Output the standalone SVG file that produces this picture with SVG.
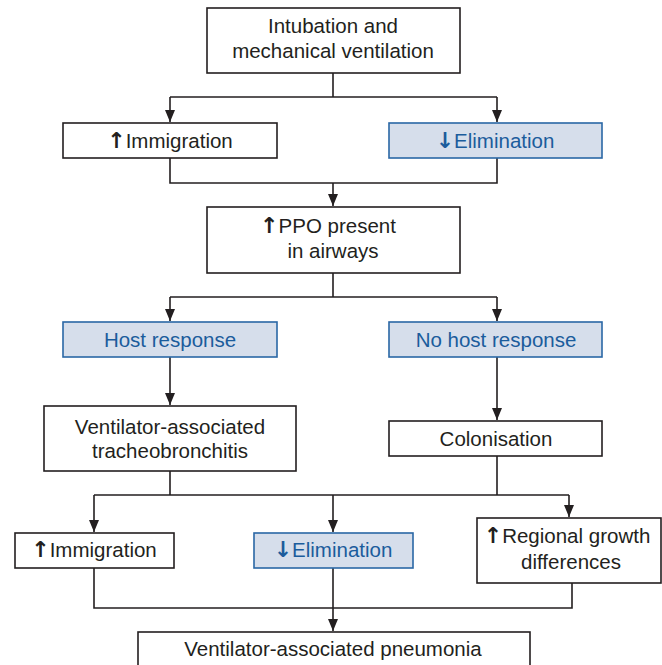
<svg xmlns="http://www.w3.org/2000/svg" width="662" height="665" viewBox="0 0 662 665">
<defs>
<marker id="ah" viewBox="0 0 12 10" refX="12" refY="5" markerWidth="12" markerHeight="10" markerUnits="userSpaceOnUse" orient="auto">
<path d="M0,0 L12,5 L0,10 Z" fill="#231f20"/>
</marker>
<style>
.b{fill:#fff;stroke:#231f20;stroke-width:1.6}
.bl{fill:#d6deeb;stroke:#2a67a5;stroke-width:1.6}
.t{font-family:"Liberation Sans",Arial,sans-serif;font-size:20.5px;fill:#231f20;text-anchor:middle}
.tb{fill:#1b5c9c}
.ar{font-family:"DejaVu Sans",sans-serif;font-weight:bold;font-size:22px}
.c{fill:none;stroke:#231f20;stroke-width:1.6}
</style>
</defs>
<rect width="662" height="665" fill="#fff"/>
<g id="connectors">
<path class="c" d="M333,73 V97 M170,97 H497"/>
<path class="c" d="M170,97 V122" marker-end="url(#ah)"/>
<path class="c" d="M497,97 V122" marker-end="url(#ah)"/>
<path class="c" d="M170,158 V183 H497 V158"/>
<path class="c" d="M333,183 V206" marker-end="url(#ah)"/>
<path class="c" d="M333,273 V297 M170,297 H497"/>
<path class="c" d="M170,297 V321" marker-end="url(#ah)"/>
<path class="c" d="M497,297 V321" marker-end="url(#ah)"/>
<path class="c" d="M170,357 V405" marker-end="url(#ah)"/>
<path class="c" d="M497,357 V420" marker-end="url(#ah)"/>
<path class="c" d="M170,471 V495 M497,456 V495 M94,495 H569"/>
<path class="c" d="M94,495 V532" marker-end="url(#ah)"/>
<path class="c" d="M333,495 V532" marker-end="url(#ah)"/>
<path class="c" d="M569,495 V517" marker-end="url(#ah)"/>
<path class="c" d="M94,568 V608 H572 V583"/>
<path class="c" d="M333,568 V631" marker-end="url(#ah)"/>
</g>
<g id="n1"><rect class="b" x="207" y="8" width="253" height="65"/>
<text class="t" x="333" y="33">Intubation and</text>
<text class="t" x="333" y="58">mechanical ventilation</text></g>
<g id="n2"><rect class="b" x="63" y="123" width="214" height="35"/>
<text class="t" x="170" y="148"><tspan class="ar">↑</tspan>Immigration</text></g>
<g id="n3"><rect class="bl" x="389" y="123" width="213" height="35"/>
<text class="t tb" x="495" y="148"><tspan class="ar">↓</tspan>Elimination</text></g>
<g id="n4"><rect class="b" x="207" y="207" width="253" height="66"/>
<text class="t" x="328" y="233"><tspan class="ar">↑</tspan>PPO present</text>
<text class="t" x="333" y="258">in airways</text></g>
<g id="n5"><rect class="bl" x="63" y="322" width="214" height="35"/>
<text class="t tb" x="170" y="347">Host response</text></g>
<g id="n6"><rect class="bl" x="389" y="322" width="213" height="35"/>
<text class="t tb" x="496" y="347">No host response</text></g>
<g id="n7"><rect class="b" x="44" y="406" width="252" height="65"/>
<text class="t" x="170" y="434">Ventilator-associated</text>
<text class="t" x="170" y="458">tracheobronchitis</text></g>
<g id="n8"><rect class="b" x="389" y="421" width="213" height="35"/>
<text class="t" x="496" y="446">Colonisation</text></g>
<g id="n9"><rect class="b" x="15" y="533" width="159" height="35"/>
<text class="t" x="94" y="557"><tspan class="ar">↑</tspan>Immigration</text></g>
<g id="n10"><rect class="bl" x="254" y="533" width="159" height="35"/>
<text class="t tb" x="333" y="557"><tspan class="ar">↓</tspan>Elimination</text></g>
<g id="n11"><rect class="b" x="477" y="518" width="184" height="65"/>
<text class="t" x="567" y="543"><tspan class="ar">↑</tspan>Regional growth</text>
<text class="t" x="571" y="569">differences</text></g>
<g id="n12"><rect class="b" x="138" y="632" width="392" height="40"/>
<text class="t" x="333" y="656">Ventilator-associated pneumonia</text></g>
</svg>
